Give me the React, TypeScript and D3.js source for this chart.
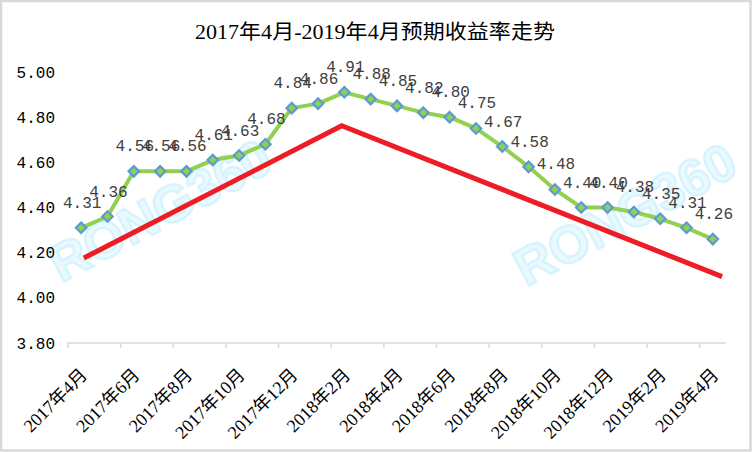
import React from "react";
import * as d3 from "d3";

const categories = [
  "2017年4月", "2017年5月", "2017年6月", "2017年7月", "2017年8月", "2017年9月",
  "2017年10月", "2017年11月", "2017年12月", "2018年1月", "2018年2月", "2018年3月",
  "2018年4月", "2018年5月", "2018年6月", "2018年7月", "2018年8月", "2018年9月",
  "2018年10月", "2018年11月", "2018年12月", "2019年1月", "2019年2月", "2019年3月",
  "2019年4月",
];
const rates = [
  4.31, 4.36, 4.56, 4.56, 4.56, 4.61, 4.63, 4.68, 4.84, 4.86, 4.91, 4.88, 4.85,
  4.82, 4.8, 4.75, 4.67, 4.58, 4.48, 4.4, 4.4, 4.38, 4.35, 4.31, 4.26,
];
// hand-drawn trend line: positions in category-index units, values in %
const trendIndex = [0.1, 9.9, 24.35];
const trendValue = [4.176, 4.762, 4.094];
const yTicks = [3.8, 4.0, 4.2, 4.4, 4.6, 4.8, 5.0];
const title = "2017年4月-2019年4月预期收益率走势";
const watermark = "RONG360";

const W = 752;
const H = 452;
const left = 68;
const right = 726;
const top = 72;
const bottom = 343;

export default function App() {
  const x = d3.scaleBand<string>().domain(categories).range([left, right]).padding(0);
  const xi = d3.scaleLinear().domain([0, categories.length]).range([left, right]);
  const y = d3.scaleLinear().domain([3.8, 5.0]).range([bottom, top]);
  const cx = (c: string) => (x(c) as number) + x.bandwidth() / 2;

  const line = d3
    .line<number>()
    .x((_, i) => cx(categories[i]))
    .y((d) => y(d));
  const trend = d3
    .line<number>()
    .x((_, i) => xi(trendIndex[i] + 0.5))
    .y((d) => y(d));

  const tickIdx = categories.map((_, i) => i).filter((i) => i % 2 === 0);
  const numFont = "'Liberation Mono', 'DejaVu Sans Mono', monospace";
  const labFont = "'Liberation Serif', 'Noto Sans CJK SC', serif";

  const diamond = d3.symbol().type(d3.symbolDiamond2).size(70)();

  return (
    <svg width={W} height={H} style={{ position: "absolute", left: 0, top: 0 }}>
      <rect x={0} y={0} width={W} height={H} fill="#fff" />
      <rect x={1} y={1} width={W - 2.5} height={H - 2.5} fill="none" stroke="#d9d9d9" strokeWidth={2.5} />
      <text
        x={375}
        y={39}
        textAnchor="middle"
        fontFamily={labFont}
        fontSize={20}
        fill="#000"
        textLength={360}
        lengthAdjust="spacingAndGlyphs"
      >
        {title}
      </text>

      {/* watermarks */}
      {[
        [162, 214],
        [627, 218],
      ].map(([wx, wy], k) => (
        <text
          key={k}
          transform={`translate(${wx},${wy}) rotate(-28)`}
          textAnchor="middle"
          dominantBaseline="middle"
          fontFamily="'Liberation Sans', Arial, sans-serif"
          fontWeight="bold"
          fontSize={52}
          fill="#e9f9fe"
          stroke="#d6f4fd"
          strokeWidth={2.5}
        >
          {watermark}
        </text>
      ))}

      {/* y axis labels */}
      {yTicks.map((t) => (
        <text
          key={t}
          x={55}
          y={y(t)}
          dy="0.35em"
          textAnchor="end"
          fontFamily={numFont}
          fontSize={16}
          fill="#000"
        >
          {d3.format(".2f")(t)}
        </text>
      ))}

      {/* x axis */}
      <line x1={left} x2={right} y1={bottom} y2={bottom} stroke="#d9d9d9" strokeWidth={1.5} />
      {tickIdx.map((i) => (
        <line
          key={i}
          x1={x(categories[i]) as number}
          x2={x(categories[i]) as number}
          y1={bottom}
          y2={bottom + 5}
          stroke="#d9d9d9"
          strokeWidth={1.5}
        />
      ))}
      {tickIdx.map((i) => (
        <text
          key={i}
          transform={`translate(${cx(categories[i]) + 7},${bottom + 33}) rotate(-45)`}
          textAnchor="end"
          fontFamily={labFont}
          fontSize={18}
          fill="#000"
        >
          {categories[i]}
        </text>
      ))}

      {/* trend line */}
      <path d={trend(trendValue) || ""} fill="none" stroke="#ee1c24" strokeWidth={5} strokeLinejoin="miter" />

      {/* data line */}
      <path d={line(rates) || ""} fill="none" stroke="#92d050" strokeWidth={4} strokeLinejoin="round" />
      {rates.map((v, i) => (
        <path
          key={i}
          d={diamond || ""}
          transform={`translate(${cx(categories[i])},${y(v)})`}
          fill="#92d050"
          stroke="#5b9bd5"
          strokeWidth={2.2}
        />
      ))}
      {rates.map((v, i) => (
        <text
          key={i}
          x={cx(categories[i]) + 1}
          y={y(v) - 20}
          textAnchor="middle"
          fontFamily={numFont}
          fontSize={16}
          fill="#404040"
        >
          {d3.format(".2f")(v)}
        </text>
      ))}
    </svg>
  );
}
